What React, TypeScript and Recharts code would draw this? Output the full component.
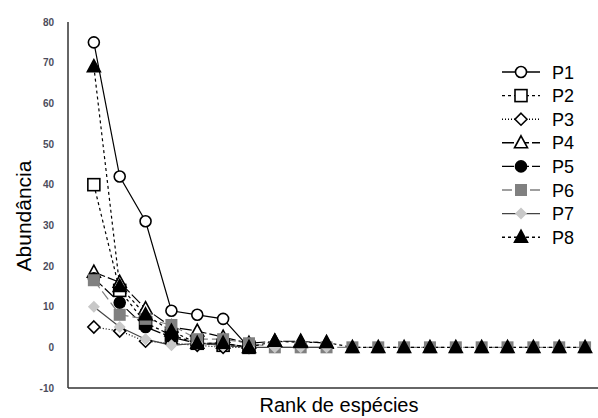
import { LineChart, Line, XAxis, YAxis } from "recharts";

const ranks = [1, 2, 3, 4, 5, 6, 7, 8, 9, 10, 11, 12, 13, 14, 15, 16, 17, 18, 19, 20];
const p1 = [75, 42, 31, 9, 8, 7, 0];
const p2 = [40, 14, 6, 3, 1, 0.5, 0];
const p3 = [5, 4, 1.5, 1, 0.5, 0, 0];
const p4 = [18.5, 16, 9.5, 5, 4, 2.5, 1, 1.5, 1.5, 1];
const p5 = [17, 11, 5, 2.5, 1, 1, 0];
const p6 = [16.5, 8, 7, 5.5, 2, 2, 1, 0, 0, 0, 0, 0, 0, 0, 0, 0, 0, 0, 0, 0];
const p7 = [10, 5, 2, 0.5, 1, 0.5, 0, 0, 0, 0];
const p8 = [69, 15, 8, 4, 1, 1, 0, 1.5, 1.2, 1.2, 0, 0, 0, 0, 0, 0, 0, 0, 0, 0];
const yTicks = [-10, 0, 10, 20, 30, 40, 50, 60, 70, 80];

const data = ranks.map((r, i) => ({
  rank: r,
  p1: p1[i], p2: p2[i], p3: p3[i], p4: p4[i],
  p5: p5[i], p6: p6[i], p7: p7[i], p8: p8[i],
}));

const font = "Liberation Sans, Arial, sans-serif";

type Shape = "circle" | "square" | "diamond" | "triangle";

interface SeriesDef {
  key: string;
  name: string;
  shape: Shape;
  fill: string;
  stroke: string;
  line: string;
  dash?: string;
}

const series: SeriesDef[] = [
  { key: "p1", name: "P1", shape: "circle", fill: "#fff", stroke: "#000", line: "#000" },
  { key: "p2", name: "P2", shape: "square", fill: "#fff", stroke: "#000", line: "#000", dash: "3 3" },
  { key: "p3", name: "P3", shape: "diamond", fill: "#fff", stroke: "#000", line: "#000", dash: "1 2" },
  { key: "p4", name: "P4", shape: "triangle", fill: "#fff", stroke: "#000", line: "#000", dash: "12 3" },
  { key: "p5", name: "P5", shape: "circle", fill: "#000", stroke: "#000", line: "#000", dash: "12 3" },
  { key: "p6", name: "P6", shape: "square", fill: "#808080", stroke: "none", line: "#808080", dash: "10 4" },
  { key: "p7", name: "P7", shape: "diamond", fill: "#c8c8c8", stroke: "none", line: "#444" },
  { key: "p8", name: "P8", shape: "triangle", fill: "#000", stroke: "#000", line: "#000", dash: "3 3" },
];

function marker(s: SeriesDef, cx: number, cy: number, key?: string) {
  const sw = s.stroke === "none" ? 0 : 1.6;
  if (s.shape === "circle") {
    return <circle key={key} cx={cx} cy={cy} r={5.5} fill={s.fill} stroke={s.stroke} strokeWidth={sw} />;
  }
  if (s.shape === "square") {
    return <rect key={key} x={cx - 6} y={cy - 6} width={12} height={12} fill={s.fill} stroke={s.stroke} strokeWidth={sw} />;
  }
  if (s.shape === "diamond") {
    const d = 6;
    return (
      <polygon key={key} points={`${cx},${cy - d} ${cx + d},${cy} ${cx},${cy + d} ${cx - d},${cy}`}
        fill={s.fill} stroke={s.stroke} strokeWidth={sw} />
    );
  }
  return (
    <polygon key={key} points={`${cx},${cy - 7} ${cx + 6.5},${cy + 5} ${cx - 6.5},${cy + 5}`}
      fill={s.fill} stroke={s.stroke} strokeWidth={sw} />
  );
}

function dotFor(s: SeriesDef) {
  return (props: any) => {
    const { cx, cy, index } = props;
    const k = `${s.key}-${index}`;
    if (cx == null || cy == null || Number.isNaN(cy)) return <g key={k} />;
    return marker(s, cx, cy, k);
  };
}

function LegendBox() {
  return (
    <svg width={100} height={190}>
      {series.map((s, i) => {
        const y = 10 + i * 23.6;
        return (
          <g key={s.key}>
            <line x1={2} x2={40} y1={y} y2={y} stroke={s.line} strokeWidth={1.4} strokeDasharray={s.dash} />
            {marker(s, 21, y)}
            <text x={52} y={y + 6.5} fontSize={18} fontFamily={font} fill="#000">
              {s.name}
            </text>
          </g>
        );
      })}
    </svg>
  );
}

export default function App() {
  return (
    <div style={{ position: "absolute", left: 0, top: 0, width: 598, height: 418, background: "#fff" }}>
      <LineChart width={598} height={418} data={data} margin={{ top: 22, right: 0, bottom: 0, left: 8 }}>
        <XAxis
          dataKey="rank"
          type="number"
          domain={[0, 20.5]}
          tick={false}
          tickLine={false}
          height={30}
          axisLine={{ stroke: "#333", strokeWidth: 1.5 }}
          label={{
            content: () => (
              <text x={339} y={412} textAnchor="middle" fontSize={20} fontFamily={font} fill="#000">
                Rank de espécies
              </text>
            ),
          }}
        />
        <YAxis
          type="number"
          domain={[-10, 80]}
          ticks={yTicks}
          width={60}
          tickLine={false}
          tickMargin={8}
          axisLine={{ stroke: "#333", strokeWidth: 1.5 }}
          tick={{ fontSize: 10, fontWeight: "bold", fill: "#4c4c5c", fontFamily: font }}
          label={{
            content: () => (
              <text x={31} y={216} transform="rotate(-90 31 216)" textAnchor="middle" fontSize={21}
                fontFamily={font} fill="#000">
                Abundância
              </text>
            ),
          }}
        />
        {series.map((s) => (
          <Line
            key={s.key}
            dataKey={s.key}
            name={s.name}
            stroke={s.line}
            strokeWidth={1.2}
            strokeDasharray={s.dash}
            dot={dotFor(s)}
            activeDot={false}
            isAnimationActive={false}
          />
        ))}
      </LineChart>
      <div style={{ position: "absolute", left: 500, top: 62 }}>
        <LegendBox />
      </div>
    </div>
  );
}
